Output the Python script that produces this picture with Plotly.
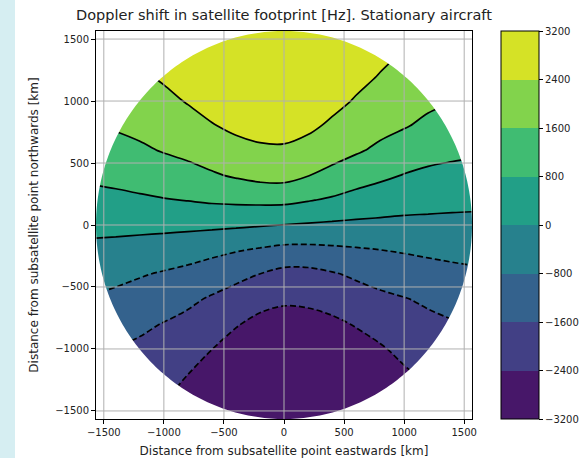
import numpy as np
import plotly.graph_objects as go

# Grid of the footprint (km from the subsatellite point)
X_KM = [-1600, -1400, -1200, -1000, -800, -600, -400, -200, 0, 200, 400, 600, 800, 1000, 1200, 1400, 1600]
Y_KM = [-1600, -1400, -1200, -1000, -800, -600, -400, -200, 0, 200, 400, 600, 800, 1000, 1200, 1400, 1600]

# Doppler shift [Hz], one row per Y_KM value
DOPPLER_HZ = [
    [-1990, -2140, -2340, -2630, -2800, -3030, -3100, -3140, -3150, -3150, -3100, -3070, -2930, -2820, -2650, -2470, -2280],
    [-1840, -1970, -2140, -2360, -2640, -2920, -3000, -3050, -3100, -3090, -3010, -2980, -2800, -2670, -2480, -2270, -2110],
    [-1690, -1800, -1930, -2120, -2390, -2790, -2880, -2940, -3030, -3000, -2890, -2860, -2650, -2500, -2250, -2070, -1930],
    [-1480, -1620, -1730, -1880, -2100, -2390, -2740, -2800, -2930, -2880, -2740, -2700, -2480, -2210, -2010, -1860, -1750],
    [-1170, -1310, -1470, -1630, -1800, -2040, -2340, -2630, -2790, -2720, -2560, -2350, -2120, -1930, -1770, -1660, -1550],
    [-860, -980, -1120, -1270, -1460, -1690, -1910, -2130, -2260, -2230, -2110, -1940, -1770, -1640, -1490, -1350, -1230],
    [-520, -620, -750, -880, -1010, -1200, -1410, -1620, -1840, -1840, -1680, -1490, -1320, -1200, -1090, -990, -920],
    [-170, -220, -280, -370, -470, -600, -740, -870, -1000, -1000, -940, -870, -800, -730, -660, -610, -570],
    [200, 200, 190, 190, 170, 150, 110, 50, -10, -70, -120, -150, -170, -190, -190, -200, -200],
    [580, 620, 690, 760, 820, 900, 950, 980, 980, 840, 700, 520, 400, 300, 240, 200, 170],
    [930, 1010, 1100, 1220, 1350, 1520, 1680, 1830, 1860, 1620, 1400, 1150, 950, 770, 650, 600, 550],
    [1250, 1360, 1490, 1640, 1780, 1950, 2110, 2240, 2260, 2090, 1880, 1680, 1460, 1230, 1060, 960, 900],
    [1570, 1670, 1780, 1930, 2110, 2350, 2580, 2740, 2780, 2570, 2260, 2000, 1800, 1650, 1450, 1290, 1180],
    [1780, 1900, 2040, 2210, 2450, 2730, 2750, 2880, 2910, 2740, 2640, 2330, 2080, 1890, 1740, 1610, 1460],
    [1990, 2120, 2290, 2500, 2620, 2870, 2900, 2990, 3010, 2890, 2800, 2630, 2360, 2130, 1960, 1810, 1690],
    [2190, 2350, 2550, 2660, 2780, 2990, 3020, 3080, 3090, 3010, 2940, 2790, 2610, 2380, 2170, 2010, 1870],
    [2390, 2570, 2700, 2800, 2920, 3080, 3120, 3150, 3150, 3110, 3050, 2930, 2770, 2580, 2390, 2200, 2050],
]

FOOTPRINT_RADIUS_KM = 1565
LEVEL_STEP = 800
AXIS_TICKS = [-1500, -1000, -500, 0, 500, 1000, 1500]
CBAR_TICKS = [-3200, -2400, -1600, -800, 0, 800, 1600, 2400, 3200]

# viridis sampled at band centres (matplotlib contourf look)
BAND_COLORS = ["#471769", "#424085", "#34628d", "#27818d", "#229f87", "#40bc72", "#82d34c", "#d5e226"]

FONT = "DejaVu Sans"
TEXT = "#222222"

colorscale = [[i / (len(BAND_COLORS) - 1), c] for i, c in enumerate(BAND_COLORS)]

fig = go.Figure()

fig.add_trace(
    go.Contour(
        x=X_KM,
        y=Y_KM,
        z=DOPPLER_HZ,
        colorscale=colorscale,
        zmin=-3200,
        zmax=3200,
        contours=dict(start=-2400, end=2400, size=LEVEL_STEP, coloring="fill", showlines=False),
        line=dict(smoothing=1, width=0),
        hoverinfo="skip",
        colorbar=dict(
            x=1.077,
            xanchor="left",
            xpad=0,
            y=0.5,
            yanchor="middle",
            ypad=0,
            len=1,
            thickness=38,
            outlinewidth=1,
            outlinecolor="black",
            ticks="outside",
            ticklen=4,
            tickcolor="black",
            tickvals=CBAR_TICKS,
            tickfont=dict(size=10, family=FONT, color=TEXT),
        ),
    )
)

# positive levels solid, negative dashed (matplotlib default)
fig.add_trace(
    go.Contour(
        x=X_KM, y=Y_KM, z=DOPPLER_HZ,
        contours=dict(start=0, end=2400, size=LEVEL_STEP, coloring="none"),
        line=dict(color="black", width=1.7, smoothing=1),
        showscale=False, hoverinfo="skip",
    )
)
fig.add_trace(
    go.Contour(
        x=X_KM, y=Y_KM, z=DOPPLER_HZ,
        contours=dict(start=-2400, end=-800, size=LEVEL_STEP, coloring="none"),
        line=dict(color="black", width=1.7, smoothing=1, dash="6px,3px"),
        showscale=False, hoverinfo="skip",
    )
)

# white mask outside the circular footprint
theta = np.linspace(0, 2 * np.pi, 361)[::-1]
ring = " L ".join(f"{FOOTPRINT_RADIUS_KM * np.cos(t):.1f},{FOOTPRINT_RADIUS_KM * np.sin(t):.1f}" for t in theta)
mask_path = "M -4000,-4000 L 4000,-4000 L 4000,4000 L -4000,4000 Z M " + ring + " Z"

shapes = [
    dict(type="path", path=mask_path, xref="x", yref="y", fillcolor="white",
         line=dict(width=0), layer="above", fillrule="evenodd"),
]
for t in AXIS_TICKS:
    shapes.append(dict(type="line", xref="x", yref="paper", x0=t, x1=t, y0=0, y1=1,
                       line=dict(color="#b0b0b0", width=1), layer="above"))
    shapes.append(dict(type="line", xref="paper", yref="y", x0=0, x1=1, y0=t, y1=t,
                       line=dict(color="#b0b0b0", width=1), layer="above"))

# notebook cell strip on the left
shapes.append(dict(type="rect", xref="paper", yref="paper", x0=-96 / 376, x1=-81 / 376,
                   y0=-39 / 388, y1=1 + 31 / 388, fillcolor="#d6eef2", line=dict(width=0), layer="below"))

fig.update_layout(
    width=586,
    height=458,
    margin=dict(l=96, r=114, t=31, b=39, autoexpand=False),
    paper_bgcolor="white",
    plot_bgcolor="white",
    font=dict(family=FONT, size=10, color=TEXT),
    title=dict(
        text="Doppler shift in satellite footprint [Hz]. Stationary aircraft",
        x=0.5,
        xref="paper",
        xanchor="center",
        y=1 - 15 / 458,
        yref="container",
        yanchor="middle",
        font=dict(size=14.5, family=FONT, color=TEXT),
    ),
    shapes=shapes,
    showlegend=False,
)

axis_style = dict(
    showgrid=False,
    zeroline=False,
    showline=True,
    mirror=True,
    linecolor="black",
    linewidth=1,
    ticks="outside",
    ticklen=4,
    tickcolor="black",
    tickvals=AXIS_TICKS,
    tickfont=dict(size=10, family=FONT, color=TEXT),
    layer="above traces",
)

fig.update_xaxes(
    range=[-FOOTPRINT_RADIUS_KM, FOOTPRINT_RADIUS_KM],
    title=dict(text="Distance from subsatellite point eastwards [km]", font=dict(size=12, family=FONT, color=TEXT), standoff=9),
    **axis_style,
)
fig.update_yaxes(
    range=[-FOOTPRINT_RADIUS_KM, FOOTPRINT_RADIUS_KM],
    title=dict(text="Distance from subsatellite point northwards [km]", font=dict(size=12, family=FONT, color=TEXT), standoff=13),
    **axis_style,
)

# page body has a default 8px margin; drop it so the figure sits at the window corner
fig.write_html(
    "out.html",
    config={"displayModeBar": False},
    post_script="document.body.style.margin='0';",
)
